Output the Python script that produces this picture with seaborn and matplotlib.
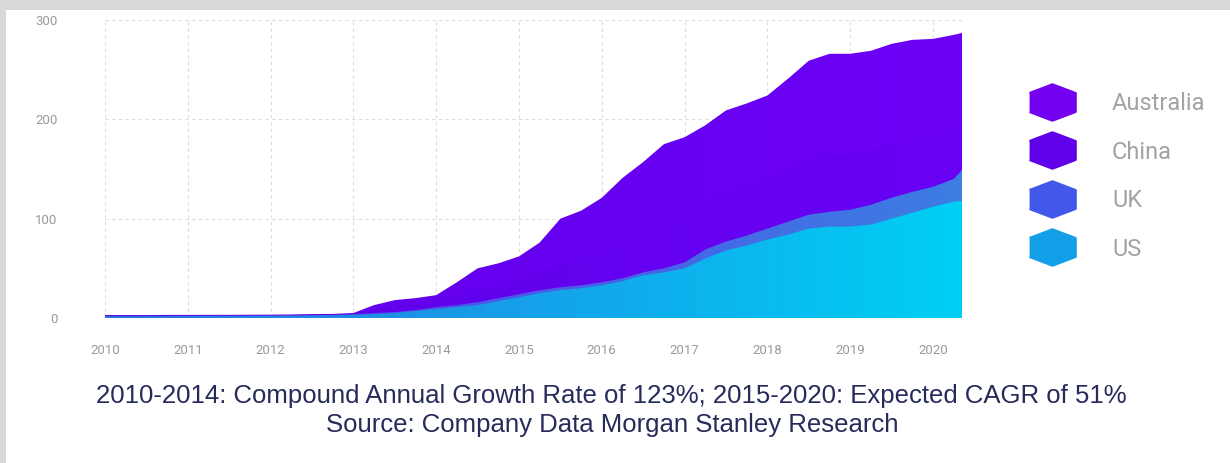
import numpy as np
import seaborn as sns
import matplotlib.pyplot as plt
from matplotlib.colors import LinearSegmentedColormap
from matplotlib.lines import Line2D
from matplotlib.patches import Rectangle

# quarterly readings
years = [2010.0, 2010.25, 2010.5, 2010.75, 2011.0, 2011.25, 2011.5, 2011.75,
         2012.0, 2012.25, 2012.5, 2012.75, 2013.0, 2013.25, 2013.5, 2013.75,
         2014.0, 2014.25, 2014.5, 2014.75, 2015.0, 2015.25, 2015.5, 2015.75,
         2016.0, 2016.25, 2016.5, 2016.75, 2017.0, 2017.25, 2017.5, 2017.75,
         2018.0, 2018.25, 2018.5, 2018.75, 2019.0, 2019.25, 2019.5, 2019.75,
         2020.0, 2020.25, 2020.35]

us = [1.8, 1.8, 1.8, 1.9, 1.9, 2.0, 2.0, 2.1, 2.2, 2.3, 2.4, 2.6,
      3, 4, 5, 7, 9, 11, 13, 17, 21, 25, 28, 30, 33, 37, 43, 46,
      50, 60, 68, 73, 79, 84, 90, 92, 92, 94, 100, 106, 112, 117, 118]
uk = [0.4, 0.4, 0.4, 0.4, 0.4, 0.4, 0.4, 0.4, 0.4, 0.4, 0.5, 0.5,
      1, 1, 1, 1, 2, 2, 3, 3, 3, 3, 3, 3, 3, 3, 3, 4,
      6, 9, 9, 10, 11, 13, 14, 15, 17, 20, 21, 21, 20, 23, 31]
china = [0.4, 0.4, 0.4, 0.4, 0.4, 0.4, 0.4, 0.4, 0.4, 0.4, 0.5, 0.5,
         0.5, 3, 4, 4, 4, 8, 12, 12, 13, 17, 24, 26, 30, 35, 39, 44,
         44, 44, 46, 47, 47, 50, 54, 56, 55, 54, 54, 54, 52, 51, 48]
australia = [0.4, 0.4, 0.4, 0.4, 0.4, 0.4, 0.4, 0.4, 0.4, 0.4, 0.5, 0.5,
             0.5, 5, 8, 8, 8, 15, 22, 23, 25, 31, 45, 49, 55, 66, 72, 81,
             82, 81, 86, 86, 87, 94, 101, 103, 102, 101, 101, 99, 97, 94, 90]

countries = ["Australia", "China", "UK", "US"]
series = [australia, china, uk, us]
# left -> right gradient colours of each band
grads = {"Australia": ("#5f00ea", "#6c00f6"),
         "China": ("#5c00e8", "#6900f4"),
         "UK": ("#5a36f0", "#3c7ee2"),
         "US": ("#2a74e0", "#00cff4")}
legend_cols = {"Australia": "#7400f0", "China": "#6000e8", "UK": "#4258ea", "US": "#139ee8"}

sns.set_style("white")
plt.rcParams["font.family"] = ["Roboto", "DejaVu Sans"]

fig = plt.figure(figsize=(12.3, 4.63), dpi=100)
ax = fig.add_axes([105 / 1230, 145 / 463, (962 - 105) / 1230, 298 / 463])

x = np.array(years)
# cumulative tops, bottom layer (US) first
tops = np.cumsum(np.array(series[::-1]), axis=0)[::-1]

for i, name in enumerate(countries):
    z = 2 + i
    poly = ax.fill_between(x, 0, tops[i], facecolor="none", linewidth=0, zorder=z)
    cmap = LinearSegmentedColormap.from_list(name, grads[name])
    im = ax.imshow(np.linspace(0, 1, 256).reshape(1, -1), cmap=cmap, aspect="auto",
                   extent=[x[0], x[-1], 0, 300], origin="lower", zorder=z,
                   interpolation="bilinear")
    im.set_clip_path(poly.get_paths()[0], transform=ax.transData)

ax.set_xlim(2010, 2020.35)
ax.set_ylim(0, 300)
ax.set_xticks(range(2010, 2021))
ax.set_yticks([0, 100, 200, 300])
ax.grid(True, color="#dcdcdc", linestyle=(0, (3, 3)), linewidth=0.8, zorder=0)
ax.set_axisbelow(True)
for s in ax.spines.values():
    s.set_visible(False)
ax.tick_params(length=0, labelsize=9.5, labelcolor="#9a9a9a")
ax.tick_params(axis="x", pad=19)
ax.tick_params(axis="y", pad=34)

hexagon = [(-1, 0.4), (0, 0.78), (1, 0.4), (1, -0.4), (0, -0.78), (-1, -0.4)]
handles = [Line2D([], [], linestyle="none", marker=hexagon, markersize=33,
                  markerfacecolor=legend_cols[c], markeredgecolor=legend_cols[c],
                  markeredgewidth=2) for c in countries]
leg = fig.legend(handles, countries, loc="center left",
                 bbox_to_anchor=(1028.4 / 1230, 286.5 / 463), frameon=False,
                 fontsize=17, handlelength=2, handletextpad=1.54, labelspacing=1.08,
                 borderpad=0, borderaxespad=0)
for t in leg.get_texts():
    t.set_color("#a3a3a3")

cap_font = ["Liberation Sans", "DejaVu Sans"]
fig.text(0.497, (463 - 396) / 463,
         "2010-2014: Compound Annual Growth Rate of 123%; 2015-2020: Expected CAGR of 51%",
         ha="center", va="center", fontsize=18.5, color="#262b5a", family=cap_font)
fig.text(0.498, (463 - 425) / 463, "Source: Company Data Morgan Stanley Research",
         ha="center", va="center", fontsize=18.5, color="#262b5a", family=cap_font)

# grey frame of the screenshot
fig.patches.append(Rectangle((0, 1 - 10 / 463), 1, 10 / 463, transform=fig.transFigure,
                             facecolor="#d9d9d9", edgecolor="none", zorder=5))
fig.patches.append(Rectangle((0, 0), 6 / 1230, 1, transform=fig.transFigure,
                             facecolor="#d9d9d9", edgecolor="none", zorder=5))

fig.savefig("out.png", dpi=100, facecolor="white")
